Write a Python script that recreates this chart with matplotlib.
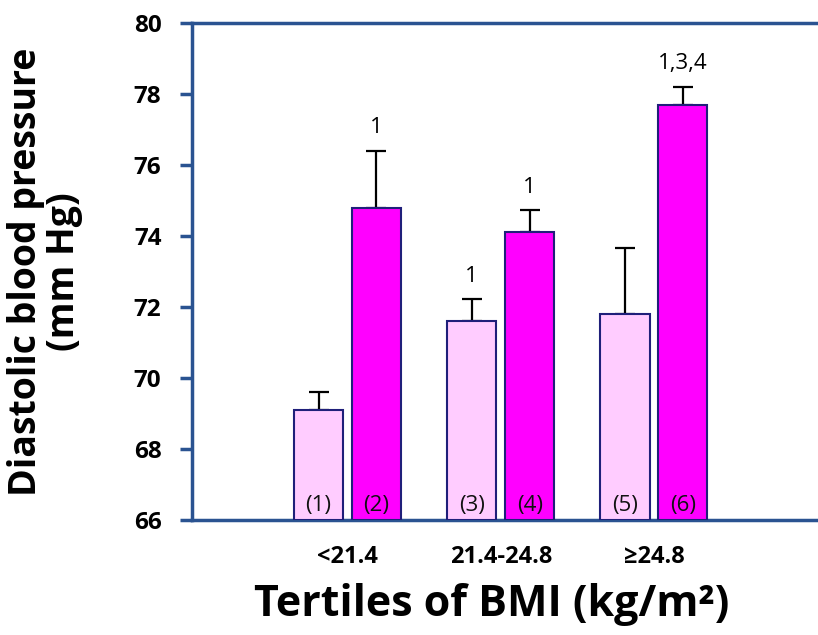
import matplotlib
matplotlib.use("Agg")
import matplotlib.pyplot as plt
import numpy as np

groups = ["<21.4", "21.4-24.8", "≥24.8"]
light_vals = [69.1, 71.6, 71.8]
light_err = [0.5, 0.62, 1.85]
dark_vals = [74.8, 74.1, 77.7]
dark_err = [1.6, 0.63, 0.5]
light_ids = ["(1)", "(3)", "(5)"]
dark_ids = ["(2)", "(4)", "(6)"]
light_sig = ["", "1", ""]
dark_sig = ["1", "1", "1,3,4"]
yticks = [66, 68, 70, 72, 74, 76, 78, 80]

plt.rcParams['font.family'] = ['Open Sans', 'DejaVu Sans']
axis_color = "#2A5391"

fig = plt.figure(figsize=(8.18, 6.35), dpi=100)
ax = fig.add_axes([192/818, 115/635, 625/818, 497/635])

x = np.arange(1, len(groups) + 1)
w = 0.32
off = 0.189
ax.bar(x - off, [v - 66 for v in light_vals], w, bottom=66, color="#FFCCFF",
       edgecolor="#1F1F7A", linewidth=1.5, zorder=3)
ax.bar(x + off, [v - 66 for v in dark_vals], w, bottom=66, color="#FF00FF",
       edgecolor="#1F1F7A", linewidth=1.5, zorder=3)
ax.errorbar(x - off, light_vals, yerr=[np.zeros(3), light_err], fmt="none",
            ecolor="black", elinewidth=1.6, capsize=7, capthick=1.6, zorder=2)
ax.errorbar(x + off, dark_vals, yerr=[np.zeros(3), dark_err], fmt="none",
            ecolor="black", elinewidth=1.6, capsize=7, capthick=1.6, zorder=2)

for i in range(len(groups)):
    ax.text(x[i] - off, 66.42, light_ids[i], ha="center", va="center",
            fontsize=16, zorder=4, color="#111111")
    ax.text(x[i] + off, 66.42, dark_ids[i], ha="center", va="center",
            fontsize=16, zorder=4, color="#111111")
    if light_sig[i]:
        ax.text(x[i] - off, light_vals[i] + light_err[i] + 0.35, light_sig[i],
                ha="center", va="bottom", fontsize=16)
    if dark_sig[i]:
        ax.text(x[i] + off, dark_vals[i] + dark_err[i] + 0.35, dark_sig[i],
                ha="center", va="bottom", fontsize=16)

ax.set_xlim(-0.015, 4.064)
ax.set_ylim(66, 80)
ax.set_yticks(yticks)
ax.set_yticklabels([str(t) for t in yticks], fontsize=17.5, fontweight="bold")
ax.set_xticks(x)
ax.set_xticklabels(groups, fontsize=17, fontweight="bold")
ax.tick_params(axis="x", length=0, pad=18)
ax.tick_params(axis="y", length=9, width=2.5, color=axis_color, pad=13)

for s in ["left", "bottom", "top"]:
    ax.spines[s].set_color(axis_color)
    ax.spines[s].set_linewidth(2.5)
ax.spines["right"].set_visible(False)

fig.text(45/818, 1 - 272/635, "Diastolic blood pressure\n(mm Hg)", fontsize=27,
         fontweight="bold", rotation=90, ha="center", va="center",
         linespacing=1.0)
fig.text(492/818, 1 - 605/635, "Tertiles of BMI (kg/m²)", fontsize=31,
         fontweight="bold", ha="center", va="center")

fig.savefig("out.png", dpi=100)
